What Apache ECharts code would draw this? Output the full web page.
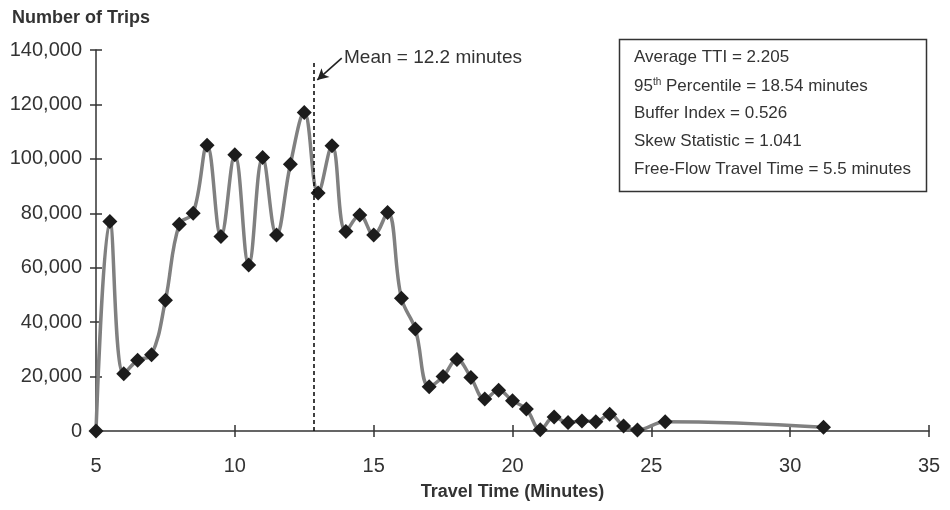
<!DOCTYPE html>
<html>
<head>
<meta charset="utf-8">
<script src="https://cdn.jsdelivr.net/npm/echarts@6/dist/echarts.min.js"></script>
<style>
html,body{margin:0;padding:0;background:#fff;}
#chart{width:950px;height:510px;}
</style>
</head>
<body>
<div id="chart"></div>
<script>
// ---- Data ----
const travelTimes = [5, 5.5, 6, 6.5, 7, 7.5, 8, 8.5, 9, 9.5, 10, 10.5, 11, 11.5, 12, 12.5, 13, 13.5, 14, 14.5, 15, 15.5, 16, 16.5, 17, 17.5, 18, 18.5, 19, 19.5, 20, 20.5, 21, 21.5, 22, 22.5, 23, 23.5, 24, 24.5, 25.5, 31.2];
const tripCounts = [0, 77000, 21000, 26000, 28000, 48000, 76000, 80000, 105000, 71500, 101500, 61000, 100500, 72000, 98000, 117000, 87500, 104800, 73300, 79400, 72000, 80300, 48800, 37500, 16300, 20000, 26300, 19700, 11800, 15000, 11100, 8100, 500, 5100, 3100, 3700, 3400, 6200, 1800, 400, 3400, 1400];
const xTicks = { min: 5, max: 35, interval: 5 };
const yTicks = { min: 0, max: 140000, interval: 20000 };
const meanLineX = 12.85;
const meanLineTop = 135500;
const meanArrowFrom = [13.85, 137000];
const meanArrowTo = [12.97, 129000];
const meanLabel = 'Mean = 12.2 minutes';
const statsLines = [
  'Average TTI = 2.205',
  '{n|95}{sup|th}{n| Percentile = 18.54 minutes}',
  'Buffer Index = 0.526',
  'Skew Statistic = 1.041',
  'Free-Flow Travel Time = 5.5 minutes'
];
const yTitle = 'Number of Trips';
const xTitle = 'Travel Time (Minutes)';

const FONT = "'Liberation Sans', Arial, sans-serif";
const TXT = '#333';

const seriesData = travelTimes.map((t, i) => [t, tripCounts[i]]);

const chart = echarts.init(document.getElementById('chart'), null, { renderer: 'canvas' });

const axisLineStyle = { color: '#333', width: 1.5 };

const option = {
  animation: false,
  backgroundColor: '#fff',
  grid: { left: 96, right: 21, top: 50, bottom: 79, containLabel: false },
  xAxis: [
    {
      type: 'value', min: xTicks.min, max: xTicks.max, interval: xTicks.interval, position: 'bottom',
      axisLine: { show: true, lineStyle: axisLineStyle },
      axisTick: { show: true, length: 6, lineStyle: axisLineStyle },
      axisLabel: { fontFamily: FONT, fontSize: 20, color: TXT, margin: 25 },
      splitLine: { show: false },
      name: xTitle, nameLocation: 'middle', nameGap: 52,
      nameTextStyle: { fontFamily: FONT, fontSize: 18, fontWeight: 'bold', color: TXT }
    },
    {
      type: 'value', min: xTicks.min, max: xTicks.max, interval: xTicks.interval, position: 'bottom',
      axisLine: { show: false },
      axisTick: { show: true, inside: true, length: 6, lineStyle: axisLineStyle },
      axisLabel: { show: false },
      splitLine: { show: false }
    }
  ],
  yAxis: [
    {
      type: 'value', min: yTicks.min, max: yTicks.max, interval: yTicks.interval, position: 'left',
      axisLine: { show: true, lineStyle: axisLineStyle },
      axisTick: { show: true, length: 6, lineStyle: axisLineStyle },
      axisLabel: {
        fontFamily: FONT, fontSize: 20, color: TXT, margin: 14,
        formatter: v => v.toLocaleString('en-US')
      },
      splitLine: { show: false }
    },
    {
      type: 'value', min: yTicks.min, max: yTicks.max, interval: yTicks.interval, position: 'left', offset: 0,
      axisLine: { show: false },
      axisTick: { show: true, inside: true, length: 6, lineStyle: axisLineStyle },
      axisLabel: { show: false },
      splitLine: { show: false }
    }
  ],
  series: [
    {
      type: 'line',
      xAxisIndex: 0, yAxisIndex: 0,
      data: seriesData,
      smooth: 0.4,
      symbol: 'diamond',
      symbolSize: 15,
      itemStyle: { color: '#1c1c1c' },
      lineStyle: { color: '#808080', width: 3.5 },
      z: 3,
      markLine: {
        silent: true,
        animation: false,
        label: { show: false },
        data: [
          [
            { coord: [meanLineX, 0], symbol: 'none', lineStyle: { color: '#111', width: 1.6, type: [4, 3] } },
            { coord: [meanLineX, meanLineTop], symbol: 'none' }
          ],
          [
            { coord: meanArrowFrom, symbol: 'none', lineStyle: { color: '#222', width: 1.6, type: 'solid' } },
            { coord: meanArrowTo, symbol: 'arrow', symbolSize: [9, 11] }
          ]
        ]
      }
    }
  ],
  graphic: [
    {
      type: 'text', left: 12, top: 9,
      style: { text: yTitle, fontFamily: FONT, fontSize: 18, fontWeight: 'bold', fill: TXT }
    },
    {
      type: 'text', left: 344, top: 48,
      style: { text: meanLabel, fontFamily: FONT, fontSize: 19, fill: TXT }
    },
    {
      type: 'rect', shape: { x: 619.5, y: 39.5, width: 307, height: 152 },
      style: { fill: '#fff', stroke: '#333', lineWidth: 1.5 }
    },
    ...statsLines.map((t, i) => ({
      type: 'text', left: 634, top: 49 + i * 28,
      style: {
        text: t, fontFamily: FONT, fontSize: 17, fill: TXT,
        rich: {
          n: { fontFamily: FONT, fontSize: 17, fill: TXT },
          sup: { fontFamily: FONT, fontSize: 10, fill: TXT, verticalAlign: 'top', padding: [0, 0, 8, 0] }
        }
      }
    }))
  ]
};

chart.setOption(option);
</script>
</body>
</html>
